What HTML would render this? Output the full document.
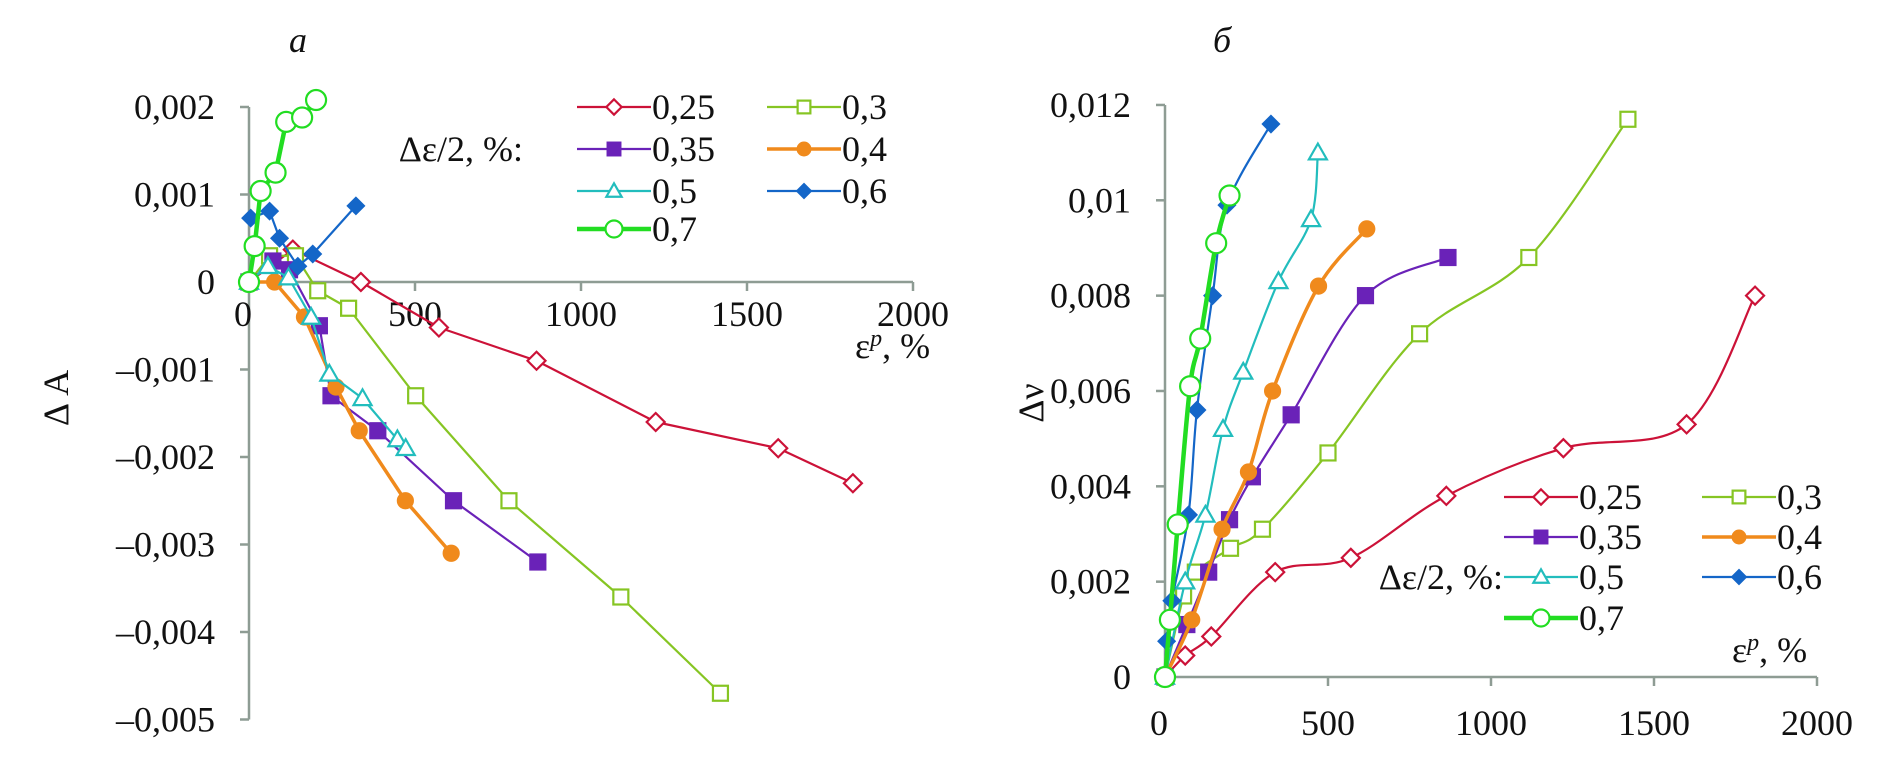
<!DOCTYPE html>
<html><head><meta charset="utf-8">
<style>
html,body{margin:0;padding:0;background:#fff;}
svg{display:block;font-family:"Liberation Serif",serif;}
</style></head>
<body>
<svg id="fig" width="1898" height="759" viewBox="0 0 1898 759" xmlns="http://www.w3.org/2000/svg">
<rect x="0" y="0" width="1898" height="759" fill="#fff"/>
<g id="left"></g>
<g id="right"></g>
</svg>
<script>
// ---- data ----
const seriesNames = ['0,25','0,3','0,35','0,4','0,5','0,6','0,7'];
const xTicks = [0,500,1000,1500,2000];
const xTickLabels = ['0','500','1000','1500','2000'];
const leftYTicks = [0.002,0.001,0,-0.001,-0.002,-0.003,-0.004,-0.005];
const leftYTickLabels = ['0,002','0,001','0','–0,001','–0,002','–0,003','–0,004','–0,005'];
const rightYTicks = [0,0.002,0.004,0.006,0.008,0.01,0.012];
const rightYTickLabels = ['0','0,002','0,004','0,006','0,008','0,01','0,012'];

// Left chart (ΔA)
const L_x_025 = [0,132,337,572,866,1225,1594,1819];
const L_y_025 = [0,0.00037,0,-0.00052,-0.0009,-0.0016,-0.0019,-0.0023];
const L_x_03 = [0,62,140,207,300,502,783,1120,1420];
const L_y_03 = [0,0.0003,0.0003,-0.0001,-0.0003,-0.0013,-0.0025,-0.0036,-0.0047];
const L_x_035 = [0,72,122,212,247,388,616,870];
const L_y_035 = [0,0.00024,0.00014,-0.0005,-0.0013,-0.0017,-0.0025,-0.0032];
const L_x_04 = [0,77,167,262,332,471,609];
const L_y_04 = [0,0,-0.0004,-0.0012,-0.0017,-0.0025,-0.0031];
const L_x_05 = [0,57,119,187,242,342,447,472];
const L_y_05 = [0,0.00018,0.00005,-0.0004,-0.00105,-0.00133,-0.0018,-0.0019];
const L_x_06 = [5,62,92,147,192,322];
const L_y_06 = [0.00073,0.00081,0.0005,0.00018,0.00032,0.00087];
const L_x_07 = [0,17,35,80,112,160,202];
const L_y_07 = [0,0.00041,0.00104,0.00125,0.00183,0.00188,0.00208];

// Right chart (Δν)
const R_x_025 = [0,62,142,338,570,863,1222,1600,1810];
const R_y_025 = [0,0.00045,0.00085,0.0022,0.0025,0.0038,0.0048,0.0053,0.008];
const R_x_03 = [0,57,93,201,299,500,781,1116,1420];
const R_y_03 = [0,0.0017,0.0022,0.0027,0.0031,0.0047,0.0072,0.0088,0.0117];
const R_x_035 = [0,67,134,198,268,387,615,868];
const R_y_035 = [0,0.0011,0.0022,0.0033,0.0042,0.0055,0.008,0.0088];
const R_x_04 = [0,82,175,256,330,471,619];
const R_y_04 = [0,0.0012,0.0031,0.0043,0.006,0.0082,0.0094];
const R_x_05 = [0,62,124,178,240,348,448,469];
const R_y_05 = [0,0.002,0.0034,0.0052,0.0064,0.0083,0.0096,0.011];
const R_x_06 = [0,5,21,72,98,146,190,325];
const R_y_06 = [0,0.00075,0.0016,0.0034,0.0056,0.008,0.0099,0.0116];
const R_x_07 = [0,15,39,77,108,157,198];
const R_y_07 = [0,0.0012,0.0032,0.0061,0.0071,0.0091,0.0101];

// ---- styles ----
const styles = [
 {c:'#cc1238',m:'diamond',w:2.2,f:false},
 {c:'#86c523',m:'square',w:2.2,f:false},
 {c:'#6a22b8',m:'square',w:2.2,f:true},
 {c:'#f08a1c',m:'circle',w:3.5,f:true},
 {c:'#22bdbd',m:'triangle',w:2.2,f:false},
 {c:'#1466c8',m:'diamond',w:2.2,f:true},
 {c:'#22dd22',m:'circle',w:4.5,f:false,big:true}
];
const NS='http://www.w3.org/2000/svg';
function mk(parent,tag,attrs){const e=document.createElementNS(NS,tag);for(const k in attrs)e.setAttribute(k,attrs[k]);parent.appendChild(e);return e;}

const LX=v=>249+v*(664/2000);
const LY=v=>282-v*87.5/0.001;
const RX=v=>1165+v*(652/2000);
const RY=v=>677-v*47.67/0.001;

function marker(g,x,y,s,scale){
  const fill=s.f?s.c:'#fff';const k=scale||1;let e;
  if(s.m==='diamond'){const r=(s.f?8:9)*k;e=mk(g,'polygon',{points:`${x},${y-r} ${x+r},${y} ${x},${y+r} ${x-r},${y}`,fill,stroke:s.c,'stroke-width':2.2});}
  else if(s.m==='square'){const r=7.5*k;e=mk(g,'rect',{x:x-r,y:y-r,width:2*r,height:2*r,fill,stroke:s.c,'stroke-width':2.2});}
  else if(s.m==='circle'){const r=(s.big?10:7.5)*k;e=mk(g,'circle',{cx:x,cy:y,r,fill,stroke:s.c,'stroke-width':2.2});}
  else {const r=9*k;e=mk(g,'polygon',{points:`${x},${y-r} ${x+r},${y+r*0.75} ${x-r},${y+r*0.75}`,fill,stroke:s.c,'stroke-width':2.2});}
  
  
}
function smoothPath(pts){
  let d=`M${pts[0][0]},${pts[0][1]}`;
  for(let i=0;i<pts.length-1;i++){
    const p0=pts[i-1]||pts[i],p1=pts[i],p2=pts[i+1],p3=pts[i+2]||p2;
    const c1=[p1[0]+(p2[0]-p0[0])/6,p1[1]+(p2[1]-p0[1])/6];
    const c2=[p2[0]-(p3[0]-p1[0])/6,p2[1]-(p3[1]-p1[1])/6];
    d+=` C${c1[0]},${c1[1]} ${c2[0]},${c2[1]} ${p2[0]},${p2[1]}`;
  }
  return d;
}
function text(g,x,y,str,opts,name){
  const t=mk(g,'text',Object.assign({x,y,'font-size':36,fill:'#111'},opts||{}));
  t.textContent=str;
  
  
  return t;
}

function drawChart(gid,X,Y,yTicks,yLabels,xs,ys,smooth,cfg){
  const g=document.getElementById(gid);
  const axc='#8e9c94';
  const yax=mk(g,'line',{x1:X(0),y1:Y(yTicks[0]),x2:X(0),y2:Y(yTicks[yTicks.length-1]),stroke:axc,'stroke-width':2.5});
  
  
  const xax=mk(g,'line',{x1:X(0),y1:Y(0),x2:X(2000),y2:Y(0),stroke:axc,'stroke-width':2.5});
  
  
  yTicks.forEach((v,i)=>{
    const tk=mk(g,'line',{x1:X(0)-9,y1:Y(v),x2:X(0),y2:Y(v),stroke:axc,'stroke-width':2.5});
    
    
    text(g,X(0)-34,Y(v)+12,yLabels[i],{'text-anchor':'end'},'y-tick-label');
  });
  xTicks.forEach((v,i)=>{
    if(i>0){const tk=mk(g,'line',{x1:X(v),y1:Y(0),x2:X(v),y2:Y(0)+9,stroke:axc,'stroke-width':2.5});
    
    }
    text(g,X(v)+(i===0?-6:0),Y(0)+cfg.xlabDy,xTickLabels[i],{'text-anchor':'middle'},'x-tick-label');
  });
  for(let s=0;s<7;s++){
    const st=styles[s];const sg=mk(g,'g',{});
    
    
    const pts=xs[s].map((x,i)=>[X(x),Y(ys[s][i])]);
    const d=smooth?smoothPath(pts):'M'+pts.map(p=>p.join(',')).join(' L');
    const p=mk(sg,'path',{d,fill:'none',stroke:st.c,'stroke-width':st.w,'stroke-linejoin':'round'});
    
    
    pts.forEach(q=>marker(sg,q[0],q[1],st));
  }
}

drawChart('left',LX,LY,leftYTicks,leftYTickLabels,
 [L_x_025,L_x_03,L_x_035,L_x_04,L_x_05,L_x_06,L_x_07],
 [L_y_025,L_y_03,L_y_035,L_y_04,L_y_05,L_y_06,L_y_07],false,{xlabDy:44});
drawChart('right',RX,RY,rightYTicks,rightYTickLabels,
 [R_x_025,R_x_03,R_x_035,R_x_04,R_x_05,R_x_06,R_x_07],
 [R_y_025,R_y_03,R_y_035,R_y_04,R_y_05,R_y_06,R_y_07],true,{xlabDy:58});

// titles & axis labels
const gl=document.getElementById('left'),gr=document.getElementById('right');
text(gl,298,52,'a',{'font-style':'italic','text-anchor':'middle'},'panel-label-a');
text(gr,1222,52,'б',{'font-style':'italic','text-anchor':'middle'},'panel-label-b');
text(gl,0,0,'Δ A',{'text-anchor':'middle',transform:'translate(68,398) rotate(-90)'},'y-axis-title');
text(gr,0,0,'Δν',{'text-anchor':'middle',transform:'translate(1043,403) rotate(-90)'},'y-axis-title');
function epsLabel(g,x,y){
  const t=mk(g,'text',{x,y,'font-size':36,fill:'#111'});
  
  
  t.innerHTML='ε<tspan dy="-12" font-size="24" font-style="italic">p</tspan><tspan dy="12">, %</tspan>';
}
epsLabel(gl,855,358);
epsLabel(gr,1732,662);

// legends
function legend(g,ox1,ox2,rows,titleX,titleRow){
  const slots=[[ox1,rows[0]],[ox2,rows[0]],[ox1,rows[1]],[ox2,rows[1]],[ox1,rows[2]],[ox2,rows[2]],[ox1,rows[3]]];
  for(let s=0;s<7;s++){
    const [x,y]=slots[s];const st=styles[s];
    const lg=mk(g,'g',{});
    
    
    mk(lg,'line',{x1:x,y1:y,x2:x+74,y2:y,stroke:st.c,'stroke-width':st.w});
    marker(lg,x+37,y,st,0.85);
    text(lg,x+75,y+12,seriesNames[s],{},'legend-label');
  }
  text(g,titleX,rows[titleRow]+12,'Δε/2, %:',{'text-anchor':'end'},'legend-title');
}
legend(gl,577,767,[107,149,191,229],523,1);
legend(gr,1504,1702,[497,537,577,618],1503,2);
</script>
</body></html>
